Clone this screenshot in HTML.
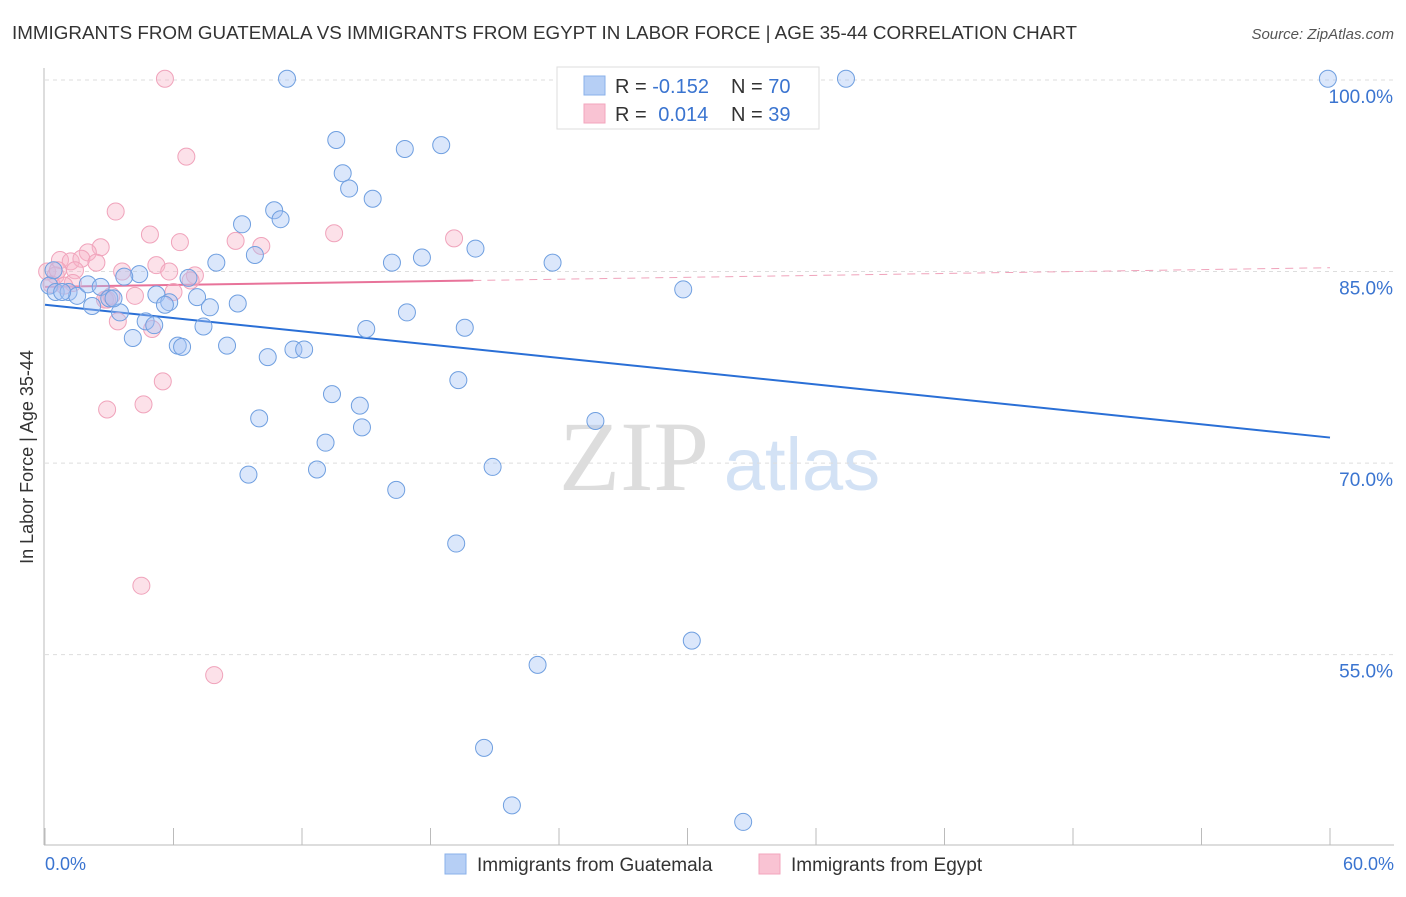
<!DOCTYPE html>
<html><head><meta charset="utf-8"><style>
body{margin:0;background:#fff;font-family:"Liberation Sans",sans-serif;}
svg text{font-family:"Liberation Sans",sans-serif;}
</style></head><body>
<svg id="chart" width="1406" height="892">
<text x="12" y="39" font-size="18" fill="#333" textLength="1065" lengthAdjust="spacingAndGlyphs">IMMIGRANTS FROM GUATEMALA VS IMMIGRANTS FROM EGYPT IN LABOR FORCE | AGE 35-44 CORRELATION CHART</text>
<text x="1394" y="39" font-size="15" fill="#555" font-style="italic" text-anchor="end">Source: ZipAtlas.com</text>
<text x="634" y="490" font-size="100" fill="#ddd" text-anchor="middle" style="font-family:'Liberation Serif',serif">ZIP</text>
<text x="802" y="490" font-size="74" fill="#d3e2f5" text-anchor="middle">atlas</text>
<g id="grid"></g><g id="axes"></g><g id="trend"></g><g id="pts"></g>
<text x="33" y="457" font-size="18" fill="#333" text-anchor="middle" transform="rotate(-90 33 457)">In Labor Force | Age 35-44</text>
<g>
<rect x="557" y="67" width="262" height="62" fill="#fff" stroke="#ddd"/>
<rect x="584" y="76" width="21" height="19" fill="#b6cff5" stroke="#8ab0ea"/>
<rect x="584" y="104" width="21" height="19" fill="#f9c3d3" stroke="#f3a6be"/>
<text x="615" y="93" font-size="20" fill="#333">R = <tspan fill="#3a74d0">-0.152</tspan></text>
<text x="731" y="93" font-size="20" fill="#333">N = <tspan fill="#3a74d0">70</tspan></text>
<text x="615" y="121" font-size="20" fill="#333">R = <tspan fill="#3a74d0" dx="6">0.014</tspan></text>
<text x="731" y="121" font-size="20" fill="#333">N = <tspan fill="#3a74d0">39</tspan></text>
</g>
<g>
<rect x="445" y="854" width="21" height="20" fill="#b6cff5" stroke="#8ab0ea"/>
<text x="477" y="871" font-size="19" fill="#333">Immigrants from Guatemala</text>
<rect x="759" y="854" width="21" height="20" fill="#f9c3d3" stroke="#f3a6be"/>
<text x="791" y="871" font-size="19" fill="#333">Immigrants from Egypt</text>
</g>
</svg>
<script>
const yTicks=[100,85,70,55];
const yTickLabels=["100.0%","85.0%","70.0%","55.0%"];
const xTickCount=10;
const blueX=[11.3,37.4,59.9,13.6,16.8,18.5,13.9,14.2,15.3,10.7,11.0,9.2,20.1,17.6,16.2,23.7,9.8,8.0,29.8,4.4,3.7,6.7,0.2,0.5,1.1,1.5,2.0,2.6,3.0,2.2,5.2,5.8,7.1,5.6,7.7,9.0,3.5,4.7,5.1,7.4,16.9,15.0,19.6,4.1,6.2,6.4,8.5,11.6,12.1,10.4,19.3,13.4,14.7,14.8,10.0,25.7,13.1,12.7,20.9,9.5,16.4,19.2,30.2,23.0,20.5,21.8,32.6,0.4,0.8,3.2];
const blueY=[100.1,100.1,100.1,95.3,94.6,94.9,92.7,91.5,90.7,89.8,89.1,88.7,86.8,86.1,85.7,85.7,86.3,85.7,83.6,84.8,84.6,84.5,83.9,83.4,83.4,83.1,84.0,83.8,82.9,82.3,83.2,82.6,83.0,82.4,82.2,82.5,81.8,81.1,80.8,80.7,81.8,80.5,80.6,79.8,79.2,79.1,79.2,78.9,78.9,78.3,76.5,75.4,74.5,72.8,73.5,73.3,71.6,69.5,69.7,69.1,67.9,63.7,56.1,54.2,47.7,43.2,41.9,85.1,83.4,82.9];
const pinkX=[5.6,6.6,3.3,4.9,6.3,8.9,10.1,13.5,19.1,2.6,2.0,0.7,1.2,1.7,2.4,0.1,0.5,1.4,3.6,5.2,5.8,7.0,1.3,6.0,4.2,2.9,3.4,5.0,5.5,4.6,2.9,4.5,7.9,0.3,2.8,0.6,0.9,6.8,3.1];
const pinkY=[100.1,94.0,89.7,87.9,87.3,87.4,87.0,88.0,87.6,86.9,86.5,85.9,85.8,86.0,85.7,85.0,84.7,85.1,85.0,85.5,85.0,84.7,84.1,83.4,83.1,82.8,81.1,80.5,76.4,74.6,74.2,60.4,53.4,84.0,82.8,85.1,83.9,84.3,83.1];
const blueTrend=[82.4,72.0];
const pinkTrend=[83.8,85.3];
const NS="http://www.w3.org/2000/svg";
const X0=45,X1=1330,YTOP=80,PXPER=12.77;
function sx(v){return X0+v/60*(X1-X0);}
function sy(v){return YTOP+(100-v)*PXPER;}
function mk(tag,attrs,parent){const e=document.createElementNS(NS,tag);for(const k in attrs)e.setAttribute(k,attrs[k]);document.getElementById(parent).appendChild(e);return e;}
yTicks.forEach((t,i)=>{
 const l=mk('line',{x1:45,x2:1394,y1:sy(t),y2:sy(t),stroke:'#ddd','stroke-dasharray':'4 4'},'grid');
 
 
 const tx=mk('text',{x:1393,y:sy(t)+23,'font-size':19,fill:'#3a74d0','text-anchor':'end'},'grid');
 tx.textContent=yTickLabels[i];
 
 
});
const ax=mk('line',{x1:44,x2:44,y1:68,y2:845,stroke:'#bbb'},'axes');


const bx=mk('line',{x1:44,x2:1394,y1:845,y2:845,stroke:'#bbb'},'axes');


for(let i=0;i<=xTickCount;i++){
 const t=mk('line',{x1:sx(i*6),x2:sx(i*6),y1:828,y2:845,stroke:'#bbb'},'axes');
 
 
}
const xl0=mk('text',{x:45,y:870,'font-size':18,fill:'#3a74d0'},'axes');xl0.textContent='0.0%';


const xl1=mk('text',{x:1394,y:870,'font-size':18,fill:'#3a74d0','text-anchor':'end'},'axes');xl1.textContent='60.0%';


pinkX.forEach((x,i)=>{
 const c=mk('circle',{cx:sx(x),cy:sy(pinkY[i]),r:8.5,fill:'rgba(248,180,200,0.4)',stroke:'#f0a3bb','stroke-width':1},'pts');
 
 
});
blueX.forEach((x,i)=>{
 const c=mk('circle',{cx:sx(x),cy:sy(blueY[i]),r:8.5,fill:'rgba(164,194,244,0.4)',stroke:'#6f9fe0','stroke-width':1},'pts');
 
 
});
const bt=mk('line',{x1:sx(0),y1:sy(blueTrend[0]),x2:sx(60),y2:sy(blueTrend[1]),stroke:'#2a6fd6','stroke-width':2},'trend');


const pm=pinkTrend[0]+(pinkTrend[1]-pinkTrend[0])*20/60;
const pt=mk('line',{x1:sx(0),y1:sy(pinkTrend[0]),x2:sx(20),y2:sy(pm),stroke:'#e8739a','stroke-width':2},'trend');


const pd=mk('line',{x1:sx(20),y1:sy(pm),x2:sx(60),y2:sy(pinkTrend[1]),stroke:'#f0a3bb','stroke-width':1,'stroke-dasharray':'8 6'},'trend');


</script>
</body></html>
